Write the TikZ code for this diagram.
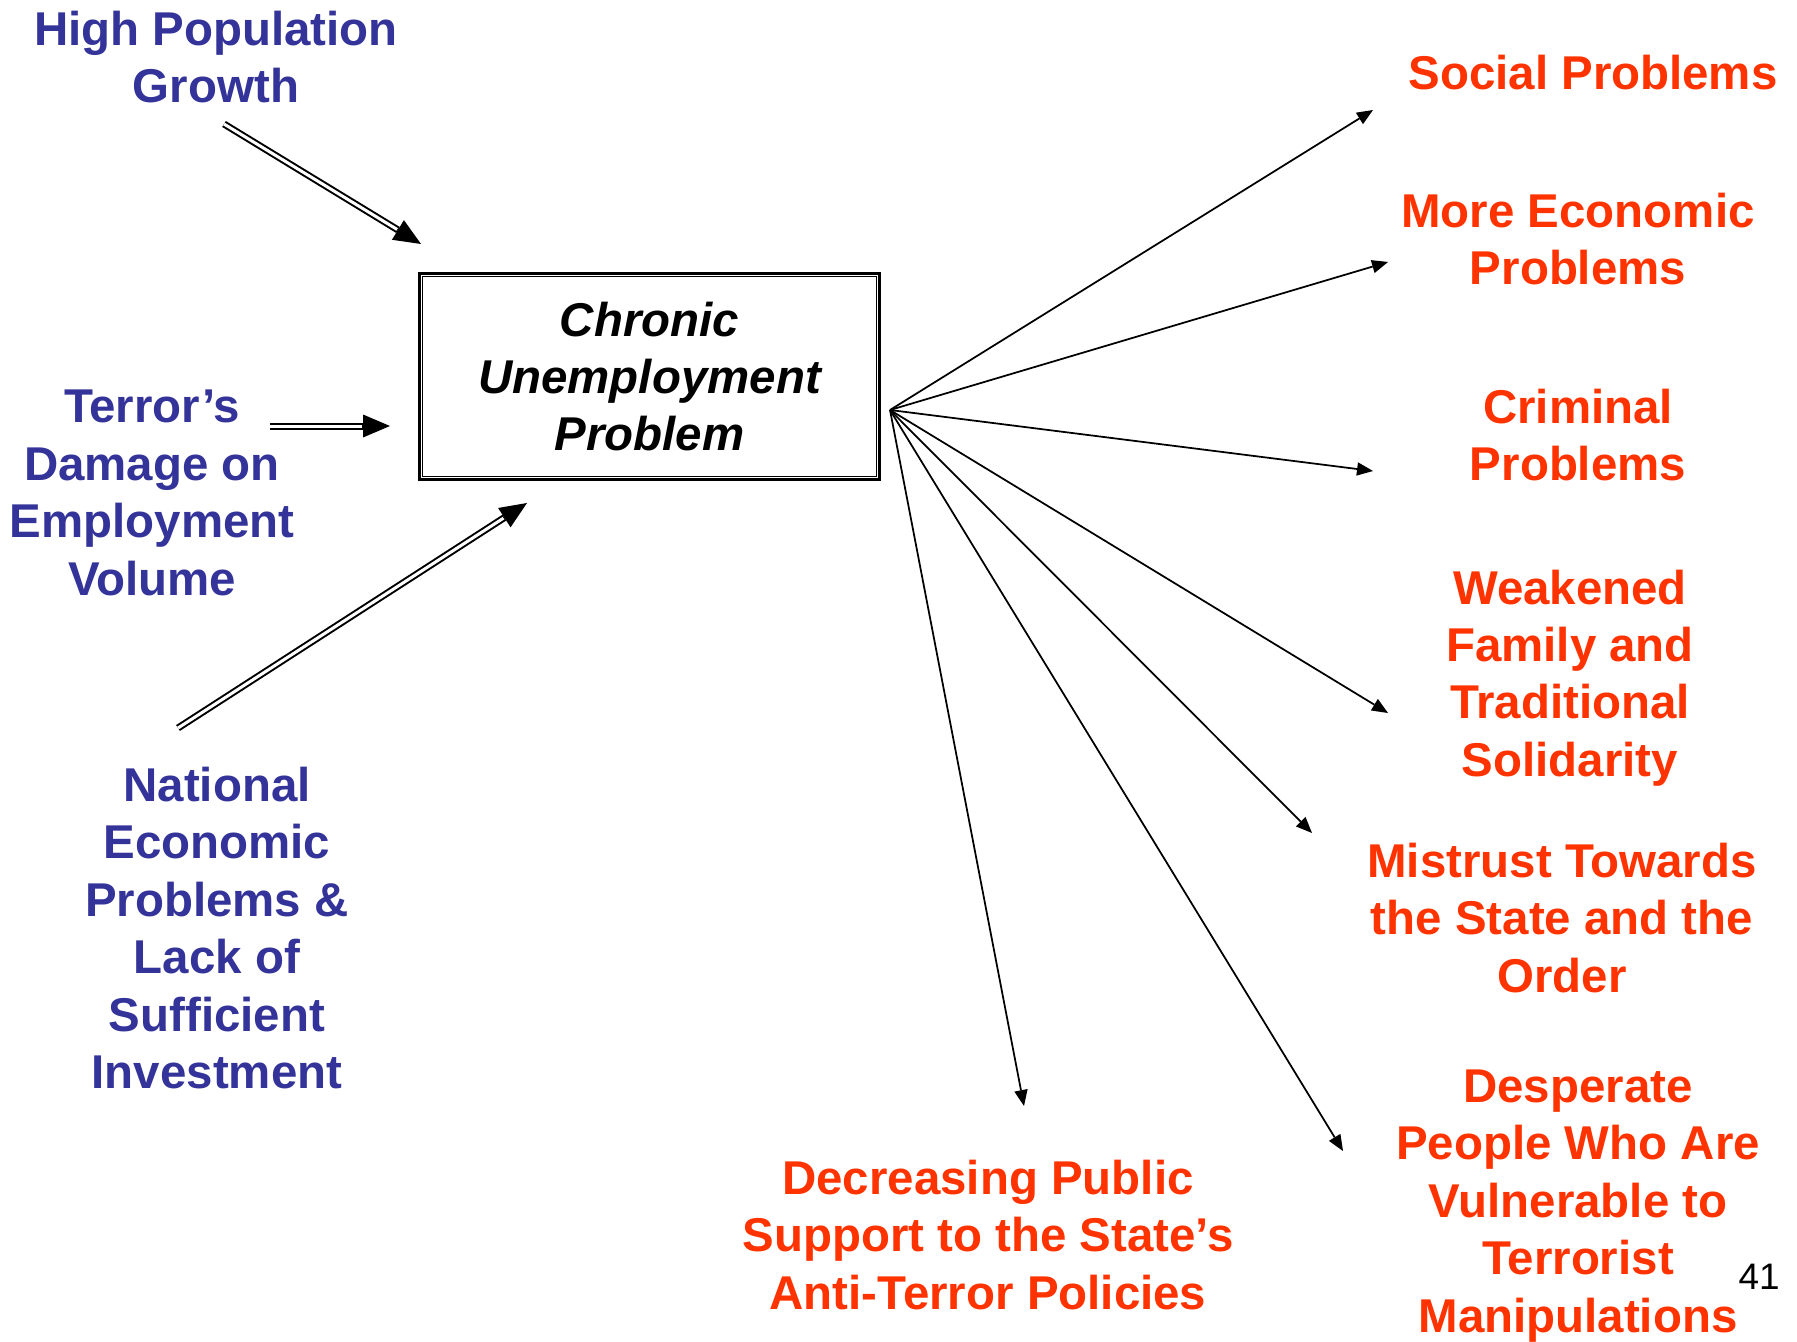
\documentclass[tikz,border=0pt]{standalone}
\usepackage{fontspec}
\setmainfont{Liberation Sans}
\usetikzlibrary{arrows.meta}
\definecolor{causeblue}{RGB}{51,51,153}
\definecolor{effectred}{RGB}{255,51,0}
\begin{document}
\begin{tikzpicture}[x=0.02cm, y=-0.02cm,
  label text/.style={font=\fontsize{27}{32.7}\selectfont\bfseries, align=center, inner sep=0pt},
  cause/.style={label text, text=causeblue},
  effect/.style={label text, text=effectred},
  corebox/.style={draw, line width=0.06cm, minimum width=9.22cm, minimum height=4.14cm,
    inner sep=0pt, align=center, font=\fontsize{27}{32.7}\selectfont\bfseries\itshape},
  dblarrow/.style={line width=0.14cm, -{Triangle[length=0.54cm, width=0.46cm, line width=0pt]},
    postaction={draw=white, line width=0.06cm, -, shorten >=0.56cm}},
  fanarrow/.style={line width=0.035cm, -{Triangle[length=0.32cm, width=0.27cm, line width=0pt]}}]

\useasboundingbox (0,0) rectangle (1797,1341);

% central problem box with its double frame
\node[corebox] (box) at (649.5,376.5) {Chronic\\Unemployment\\Problem};
\draw[line width=0.035cm] ([shift={(0.1cm,-0.1cm)}]box.north west) rectangle ([shift={(-0.1cm,0.1cm)}]box.south east);

% causes
\node[cause] (hp) at (216,57) {High Population\\Growth};
\node[cause] (terror) at (152,493) {Terror’s\\Damage on\\Employment\\Volume};
\node[cause] (natl) at (217,928) {National\\Economic\\Problems \&\\Lack of\\Sufficient\\Investment};

\coordinate (hpA) at (224,124);   \coordinate (hpB) at (421,244);
\coordinate (teA) at (270,426);   \coordinate (teB) at (390,426);
\coordinate (naA) at (178,728);   \coordinate (naB) at (527,503);
\draw[dblarrow] (hpA) -- (hpB);
\draw[dblarrow] (teA) -- (teB);
\draw[dblarrow] (naA) -- (naB);

% consequences
\node[effect] (social) at (1593,73) {Social Problems};
\node[effect] (econ) at (1578,239) {More Economic\\Problems};
\node[effect] (crime) at (1578,435) {Criminal\\Problems};
\node[effect] (family) at (1570,678) {Weakened\\Family and\\Traditional\\Solidarity};
\node[effect] (mistrust) at (1562,918) {Mistrust Towards\\the State and the\\Order};
\node[effect] (desperate) at (1578,1206) {Desperate\\People Who Are\\Vulnerable to\\Terrorist\\Manipulations};
\node[effect] (support) at (988,1235) {Decreasing Public\\Support to the State’s\\Anti-Terror Policies};

\node[font=\fontsize{21}{25}\selectfont, inner sep=0pt] (pagenum) at (1759,1277) {41};

% fan of consequence arrows
\coordinate (hub) at (890,410);
\coordinate (t1) at (1373,110);
\coordinate (t2) at (1388,262);
\coordinate (t3) at (1373,471);
\coordinate (t4) at (1388,713);
\coordinate (t5) at (1312,833);
\coordinate (t6) at (1343,1151);
\coordinate (t7) at (1024,1106);
\foreach \t in {t1,t2,t3,t4,t5,t6,t7}
  \draw[fanarrow] (hub) -- (\t);
\end{tikzpicture}
\end{document}
